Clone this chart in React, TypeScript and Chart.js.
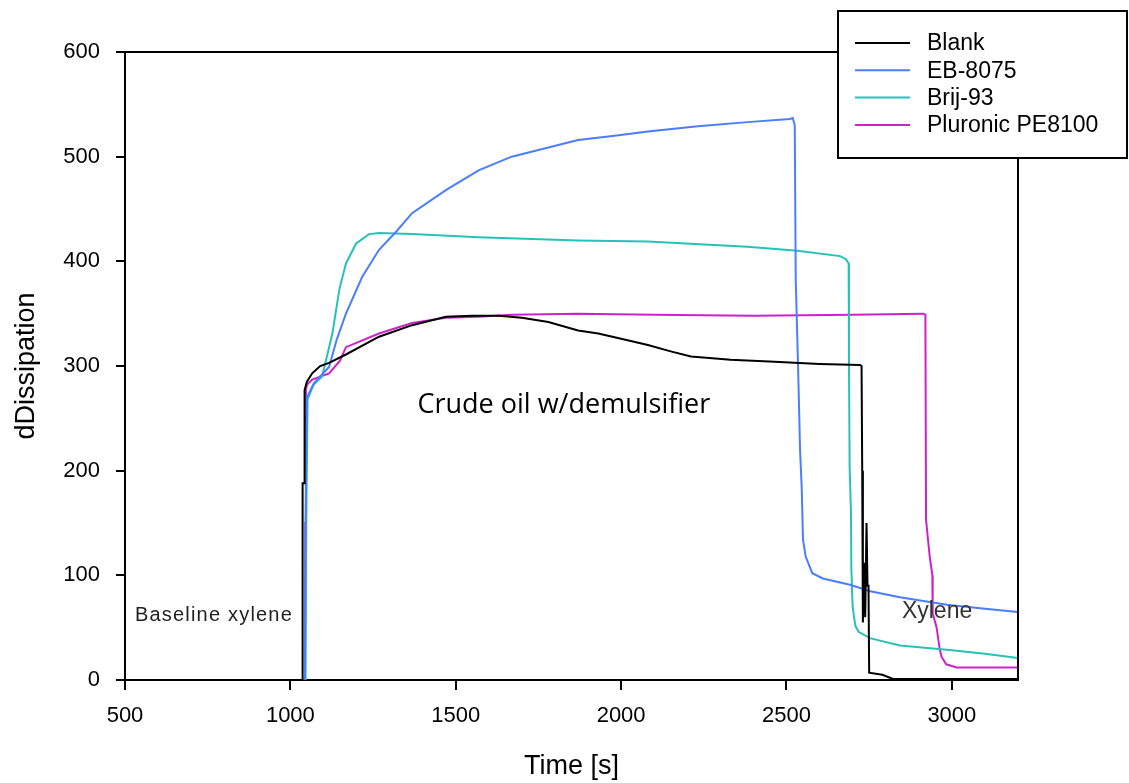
import React, { useEffect, useRef } from "react";
import { Chart, registerables } from "chart.js";

Chart.register(...registerables);

// ---------- data ----------
const seriesLabels = ["Blank", "EB-8075", "Brij-93", "Pluronic PE8100"];
const seriesColors = ["#000000", "#4a7dff", "#26c2b8", "#cc22cc"];

const blankT = [500, 1036, 1037, 1042, 1043, 1050, 1066, 1090, 1117, 1168, 1268, 1368, 1470, 1550, 1630, 1700, 1780, 1870, 1931, 2000, 2081, 2150, 2211, 2331, 2464, 2600, 2722, 2727, 2729, 2731, 2735, 2738, 2742, 2745, 2748, 2750, 2790, 2822, 3200];
const blankD = [0, 0, 188, 188, 277, 285, 293, 300, 303, 311, 328, 339, 347, 348, 348, 346, 342, 334, 331, 326, 320, 314, 309, 306, 304, 302, 301, 300, 200, 55, 112, 60, 150, 90, 90, 7, 5, 1, 1];

const ebT = [500, 1044, 1046, 1050, 1070, 1090, 1117, 1140, 1168, 1217, 1268, 1319, 1368, 1470, 1569, 1669, 1771, 1870, 1980, 2081, 2232, 2382, 2510, 2519, 2525, 2528, 2535, 2541, 2546, 2550, 2558, 2578, 2610, 2692, 2750, 2843, 2985, 3100, 3200];
const ebD = [0, 0, 150, 270, 283, 290, 299, 325, 350, 385, 411, 428, 446, 468, 487, 500, 508, 516, 520, 524, 529, 533, 536, 537, 530, 382, 300, 220, 184, 134, 118, 102, 97, 91, 85, 79, 72, 68, 65];

const brijT = [500, 1046, 1048, 1052, 1070, 1096, 1127, 1148, 1168, 1199, 1238, 1268, 1368, 1569, 1870, 2081, 2382, 2533, 2662, 2680, 2688, 2689, 2691, 2695, 2696, 2700, 2708, 2718, 2752, 2843, 2985, 3100, 3200];
const brijD = [0, 0, 150, 268, 282, 290, 331, 373, 398, 417, 426, 427, 426, 423, 420, 419, 414, 410, 405, 402, 398, 300, 203, 160, 108, 70, 52, 46, 40, 33, 29, 25, 21];

const pluT = [500, 1044, 1045, 1047, 1050, 1066, 1117, 1150, 1168, 1268, 1368, 1470, 1569, 1669, 1870, 2100, 2400, 2700, 2913, 2920, 2922, 2933, 2941, 2942, 2954, 2963, 2969, 2983, 3014, 3200];
const pluD = [0, 0, 150, 277, 282, 287, 293, 305, 318, 331, 341, 346, 347, 349, 350, 349, 348, 349, 350, 349, 153, 118, 100, 64, 50, 30, 22, 15, 12, 12];

const xTickValues = [500, 1000, 1500, 2000, 2500, 3000];
const yTickValues = [0, 100, 200, 300, 400, 500, 600];
const xMin = 500;
const xMax = 3200;
const yMin = 0;
const yMax = 600;

const xTitle = "Time [s]";
const yTitle = "dDissipation";
const noteCrude = "Crude oil w/demulsifier";
const noteBaseline = "Baseline xylene";
const noteXylene = "Xylene";

const zip = (t: number[], d: number[]) => t.map((x, i) => ({ x, y: d[i] }));

export default function App() {
  const ref = useRef<HTMLCanvasElement>(null);

  useEffect(() => {
    const canvas = ref.current;
    if (!canvas) return;

    const overlay = {
      id: "overlay",
      afterDraw(chart: any) {
        const ctx = chart.ctx as CanvasRenderingContext2D;
        const a = chart.chartArea;
        const xs = chart.scales.x;
        const ys = chart.scales.y;
        ctx.save();
        // frame top and right
        ctx.strokeStyle = "#000";
        ctx.lineWidth = 2;
        ctx.beginPath();
        ctx.moveTo(a.left, a.top);
        ctx.lineTo(a.right, a.top);
        ctx.lineTo(a.right, a.bottom);
        ctx.stroke();

        // annotations
        ctx.fillStyle = "#000";
        ctx.textBaseline = "middle";
        ctx.textAlign = "center";
        ctx.font = "27px 'Open Sans'";
        ctx.fillText(noteCrude, xs.getPixelForValue(1827), ys.getPixelForValue(262));

        ctx.textAlign = "left";
        ctx.fillStyle = "#222";
        ctx.font = "20px 'Liberation Sans'";
        (ctx as any).letterSpacing = "1.2px";
        ctx.fillText(noteBaseline, xs.getPixelForValue(530), ys.getPixelForValue(62));
        (ctx as any).letterSpacing = "0px";
        ctx.font = "23px 'Liberation Sans'";
        ctx.fillStyle = "#333";
        ctx.fillText(noteXylene, xs.getPixelForValue(2849), ys.getPixelForValue(65));

        // legend box
        const bx = 838, by = 11, bw = 289, bh = 147;
        ctx.fillStyle = "#fff";
        ctx.fillRect(bx, by, bw, bh);
        ctx.strokeStyle = "#000";
        ctx.lineWidth = 2;
        ctx.strokeRect(bx, by, bw, bh);
        ctx.font = "23px 'Liberation Sans'";
        ctx.textAlign = "left";
        ctx.textBaseline = "middle";
        chart.data.datasets.forEach((ds: any, i: number) => {
          const yy = 43 + i * 27.3;
          ctx.strokeStyle = ds.borderColor;
          ctx.lineWidth = 2;
          ctx.beginPath();
          ctx.moveTo(855, yy);
          ctx.lineTo(910, yy);
          ctx.stroke();
          ctx.fillStyle = "#000";
          ctx.fillText(ds.label, 927, yy + 1);
        });
        ctx.restore();
      },
    };

    const series = [zip(blankT, blankD), zip(ebT, ebD), zip(brijT, brijD), zip(pluT, pluD)];

    const chart = new Chart(canvas, {
      type: "line",
      data: {
        datasets: series.map((data, i) => ({
          label: seriesLabels[i],
          data,
          borderColor: seriesColors[i],
          backgroundColor: seriesColors[i],
          borderWidth: 2,
          pointRadius: 0,
          tension: 0,
          fill: false,
        })),
      },
      options: {
        responsive: false,
        animation: false,
        devicePixelRatio: 1,
        layout: { padding: { top: 52, right: 111, left: 0, bottom: 0 } },
        plugins: { legend: { display: false }, tooltip: { enabled: false } },
        scales: {
          x: {
            type: "linear",
            min: xMin,
            max: xMax,
            afterFit: (s: any) => { s.height = 103; },
            afterBuildTicks: (s: any) => { s.ticks = xTickValues.map((v) => ({ value: v })); },
            ticks: {
              color: "#000",
              padding: 13,
              maxRotation: 0,
              autoSkip: false,
              font: { family: "'Liberation Sans'", size: 22 },
              callback: (v: any) => String(v),
            },
            grid: { drawOnChartArea: false, tickLength: 10, color: "#000", lineWidth: 2 },
            border: { display: true, color: "#000", width: 2 },
            title: {
              display: true,
              text: xTitle,
              color: "#000",
              font: { family: "'Liberation Sans'", size: 27 },
              padding: { top: 0, bottom: 0 },
            },
          },
          y: {
            type: "linear",
            min: yMin,
            max: yMax,
            afterFit: (s: any) => { s.width = 125; },
            afterBuildTicks: (s: any) => { s.ticks = yTickValues.map((v) => ({ value: v })); },
            ticks: {
              color: "#000",
              padding: 16,
              autoSkip: false,
              font: { family: "'Liberation Sans'", size: 22 },
              callback: (v: any) => String(v),
            },
            grid: { drawOnChartArea: false, tickLength: 9, color: "#000", lineWidth: 2 },
            border: { display: true, color: "#000", width: 2 },
            title: {
              display: true,
              text: yTitle,
              color: "#000",
              font: { family: "'Liberation Sans'", size: 27 },
              padding: { top: 10, bottom: 0 },
            },
          },
        },
      },
      plugins: [overlay],
    } as any);

    return () => chart.destroy();
  }, []);

  return (
    <div style={{ position: "absolute", left: 0, top: 0, width: 1129, height: 783, background: "#fff" }}>
      <canvas ref={ref} width={1129} height={783} style={{ display: "block" }} />
    </div>
  );
}
